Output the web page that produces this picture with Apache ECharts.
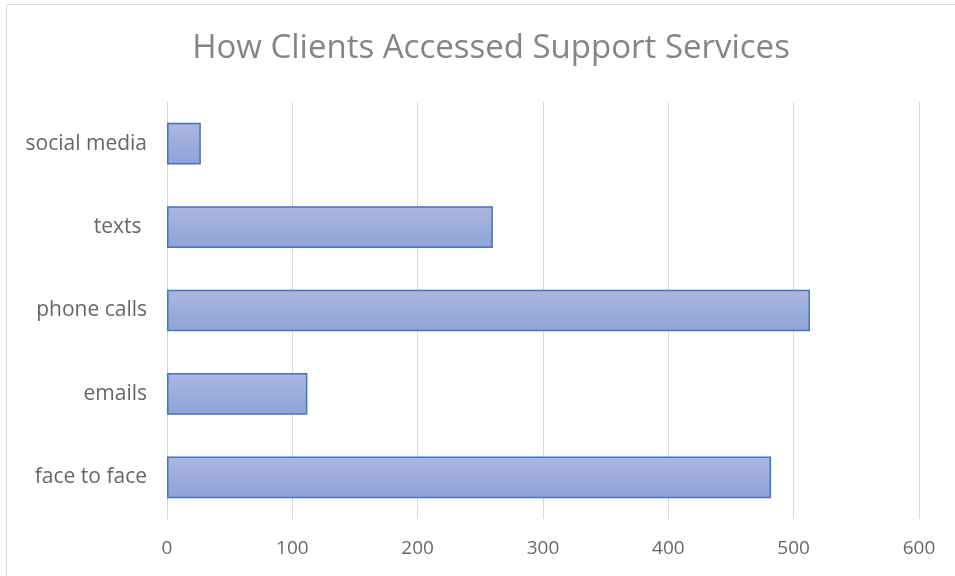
<!DOCTYPE html>
<html><head><meta charset="utf-8">
<script src="https://cdn.jsdelivr.net/npm/echarts@6/dist/echarts.min.js"></script>
<style>html,body{margin:0;padding:0;background:#fff}#c{width:955px;height:576px}</style>
</head><body><div id="c"></div>
<script>
const categories = ['face to face', 'emails', 'phone calls', 'texts ', 'social media'];
const values = [482, 112, 513, 260, 27];
const xTicks = { min: 0, max: 600, interval: 100 };

const chart = echarts.init(document.getElementById('c'), null, { renderer: 'canvas' });
chart.setOption({
  animation: false,
  backgroundColor: '#fff',
  title: {
    text: 'How Clients Accessed Support Services',
    left: 486, textAlign: 'center', top: 27,
    textStyle: { fontFamily: 'Open Sans', fontWeight: 'normal', fontSize: 33, color: '#858585' }
  },
  graphic: [{
    type: 'rect', shape: { x: 6.5, y: 4.5, width: 1000, height: 700 },
    style: { fill: 'none', stroke: '#d9d9d9', lineWidth: 1 }, silent: true, z: -1
  }],
  grid: { left: 167, right: 36, top: 102, bottom: 57 },
  xAxis: {
    type: 'value', min: xTicks.min, max: xTicks.max, interval: xTicks.interval,
    axisLine: { show: false }, axisTick: { show: false },
    splitLine: { lineStyle: { color: '#d9d9d9', width: 1 } },
    axisLabel: { color: '#666666', fontFamily: 'Open Sans', fontSize: 19, margin: 20 }
  },
  yAxis: {
    type: 'category', data: categories,
    axisLine: { show: true, lineStyle: { color: '#d9d9d9' } }, axisTick: { show: false },
    axisLabel: { color: '#666666', fontFamily: 'Open Sans', fontSize: 21, margin: 20 }
  },
  series: [{
    type: 'bar', data: values, barWidth: '50%',
    itemStyle: {
      color: new echarts.graphic.LinearGradient(0, 0, 0, 1, [
        { offset: 0, color: '#aab7e0' }, { offset: 1, color: '#8ea3d7' }
      ]),
      borderColor: '#4472c4', borderWidth: 1.5
    }
  }]
});
</script></body></html>
